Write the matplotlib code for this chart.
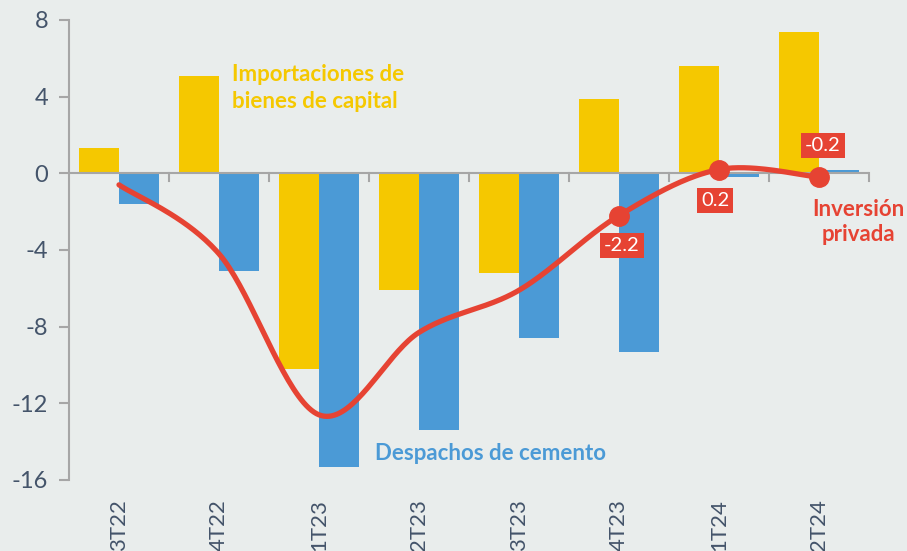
import numpy as np
import matplotlib
matplotlib.use("Agg")
import matplotlib.pyplot as plt

categories = ["3T22", "4T22", "1T23", "2T23", "3T23", "4T23", "1T24", "2T24"]
importaciones = [1.3, 5.1, -10.2, -6.1, -5.2, 3.9, 5.6, 7.4]
despachos = [-1.6, -5.1, -15.3, -13.4, -8.6, -9.3, -0.2, 0.2]
inversion = [-0.6, -4.2, -12.6, -8.3, -6.1, -2.2, 0.2, -0.2]
labeled_idx = [5, 6, 7]
yticks = [-16, -12, -8, -4, 0, 4, 8]

BG = "#E9EDEC"
YEL = "#F5C800"
BLU = "#4B9AD6"
RED = "#E64333"
TXT = "#44546A"
GRID = "#A6A6A6"

plt.rcParams['font.family'] = ['Lato', 'DejaVu Sans']

fig = plt.figure(figsize=(9.07, 5.51), dpi=100, facecolor=BG)
ax = fig.add_axes([69/907, 1-480/551, (869-69)/907, (480-20)/551], facecolor=BG)

x = np.arange(len(categories))
w = 0.4
ax.bar(x - w/2, importaciones, w, color=YEL, zorder=2)
ax.bar(x + w/2, despachos, w, color=BLU, zorder=2)

# Excel-like smoothed line (Catmull-Rom / Bezier)
def smooth(xs, ys, n=40):
    pts = np.column_stack([xs, ys]).astype(float)
    P = np.vstack([pts[0], pts, pts[-1]])
    out = []
    for i in range(1, len(P) - 2):
        p0, p1, p2, p3 = P[i-1], P[i], P[i+1], P[i+2]
        c1 = p1 + (p2 - p0) / 6
        c2 = p2 - (p3 - p1) / 6
        t = np.linspace(0, 1, n)[:, None]
        seg = (1-t)**3*p1 + 3*(1-t)**2*t*c1 + 3*(1-t)*t**2*c2 + t**3*p2
        out.append(seg if i == 1 else seg[1:])
    s = np.vstack(out)
    return s[:, 0], s[:, 1]

sx, sy = smooth(x, inversion)
ax.plot(sx, sy, color=RED, lw=3.8, solid_capstyle='round', zorder=4)
ax.plot(x[labeled_idx], np.array(inversion)[labeled_idx], 'o', color=RED,
        markersize=14, zorder=5)

label_offsets = {5: (0.03, -1.55), 6: (-0.04, -1.6), 7: (0.04, 1.65)}
for i in labeled_idx:
    dx, dy = label_offsets[i]
    ax.text(x[i] + dx, inversion[i] + dy, f"{inversion[i]:.1f}", color="white",
            fontsize=14.5, ha='center', va='center', zorder=6,
            bbox=dict(boxstyle='square,pad=0.2', fc=RED, ec='none'))

ax.text(1.13, 4.45, "Importaciones de\nbienes de capital", color=YEL,
        fontsize=16, fontweight='bold', ha='left', va='center', linespacing=1.3)
ax.text(2.56, -14.6, "Despachos de cemento", color=BLU, fontsize=16,
        fontweight='bold', ha='left', va='center')
ax.text(7.39, -2.55, "Inversión\nprivada", color=RED, fontsize=16,
        fontweight='bold', ha='center', va='center', linespacing=1.25)

ax.set_xlim(-0.5, len(categories) - 0.5)
ax.set_ylim(-16, 8)
ax.set_yticks(yticks)
ax.set_yticklabels([str(v) for v in yticks])
ax.tick_params(axis='y', colors=GRID, labelcolor=TXT, labelsize=17, length=7,
               width=1.5, pad=8)

for s in ['top', 'right', 'bottom']:
    ax.spines[s].set_visible(False)
ax.spines['left'].set_color(GRID)
ax.spines['left'].set_linewidth(1.5)

# category axis at zero
ax.axhline(0, color=GRID, lw=1.5, zorder=3)
for b in np.arange(0.5, len(categories) - 0.4, 1):
    ax.plot([b, b], [0, -0.4], color=GRID, lw=1.5, zorder=3, clip_on=False)

ax.set_xticks(x)
ax.set_xticklabels(categories, rotation=90, va='top', ha='center')
ax.tick_params(axis='x', length=0, labelcolor=TXT, labelsize=16, pad=14)

fig.savefig("out.png", dpi=100, facecolor=BG)
